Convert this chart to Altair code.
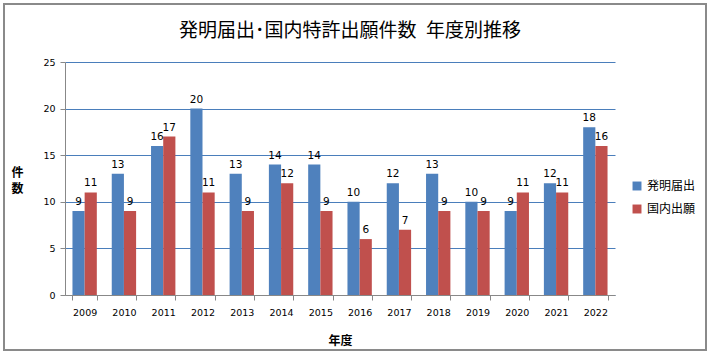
import altair as alt
import pandas as pd

years = ["2009", "2010", "2011", "2012", "2013", "2014", "2015",
         "2016", "2017", "2018", "2019", "2020", "2021", "2022"]
invention = [9, 13, 16, 20, 13, 14, 14, 10, 12, 13, 10, 9, 12, 18]
domestic = [11, 9, 17, 11, 9, 12, 9, 6, 7, 9, 9, 11, 11, 16]
series = ["発明届出", "国内出願"]
colors = ["#4F81BD", "#C0504D"]

rows = []
for i, y in enumerate(years):
    rows.append({"年度": y, "系列": series[0], "件数": invention[i]})
    rows.append({"年度": y, "系列": series[1], "件数": domestic[i]})
df = pd.DataFrame(rows)

W, H = 550, 233
FONT = "DejaVu Sans"
JP = "Noto Sans CJK JP"

x = alt.X("年度:N", sort=years,
          scale=alt.Scale(paddingInner=0.38, paddingOuter=0.19),
          axis=alt.Axis(title="年度", titleFont=JP, titleFontSize=12, titleFontWeight="bold",
                        titlePadding=19, labelAngle=0, labelFont=FONT, labelFontSize=9.5,
                        labelColor="#000", labelPadding=7, tickBand="extent", tickSize=5,
                        tickColor="#888", domainColor="#888", grid=False))
xo = alt.XOffset("系列:N", sort=series)
y = alt.Y("件数:Q", stack=None, scale=alt.Scale(domain=[0, 25], nice=False),
          axis=alt.Axis(values=[0, 5, 10, 15, 20, 25], title=["件", "数"], titleAngle=0,
                        titleFont=JP, titleFontSize=12, titleFontWeight="bold",
                        titleX=-48, titleY=117, titleLineHeight=16,
                        labelFont=FONT, labelFontSize=9.5, labelColor="#000", labelPadding=5,
                        tickSize=5, tickColor="#888", domainColor="#888",
                        gridColor="#4A7EBB", gridWidth=1))
color = alt.Color("系列:N", sort=series, scale=alt.Scale(domain=series, range=colors),
                  legend=alt.Legend(title=None, orient="none", legendX=566, legendY=118,
                                    symbolType="square", symbolSize=80, symbolStrokeWidth=0,
                                    labelFont=JP, labelFontSize=12, labelColor="#000",
                                    rowPadding=11))

bars = alt.Chart(df).mark_bar().encode(x=x, xOffset=xo, y=y, color=color)
labels = alt.Chart(df).mark_text(dy=-9, font=FONT, fontSize=10.5, color="#000").encode(
    x=alt.X("年度:N", sort=years), xOffset=xo, y=alt.Y("件数:Q", stack=None), text="件数:Q")

border = alt.Chart(pd.DataFrame({"a": [0]})).mark_rect(
    fill=None, stroke="#8A8A8A", strokeWidth=2).encode(
    x=alt.value(-61), x2=alt.value(641), y=alt.value(-58), y2=alt.value(288))

chart = alt.layer(border, bars, labels).properties(
    width=W, height=H,
    title=alt.TitleParams("発明届出･国内特許出願件数\u2002年度別推移", font=JP, fontSize=19,
                          fontWeight="normal", color="#000", anchor="middle", frame="group",
                          dx=10, offset=-38),
    autosize=alt.AutoSizeParams(type="none"),
    padding={"left": 65, "top": 62, "right": 95, "bottom": 60},
    background="white",
).configure_view(stroke=None)

chart.save("out.html", embed_options={"renderer": "svg", "actions": False})
